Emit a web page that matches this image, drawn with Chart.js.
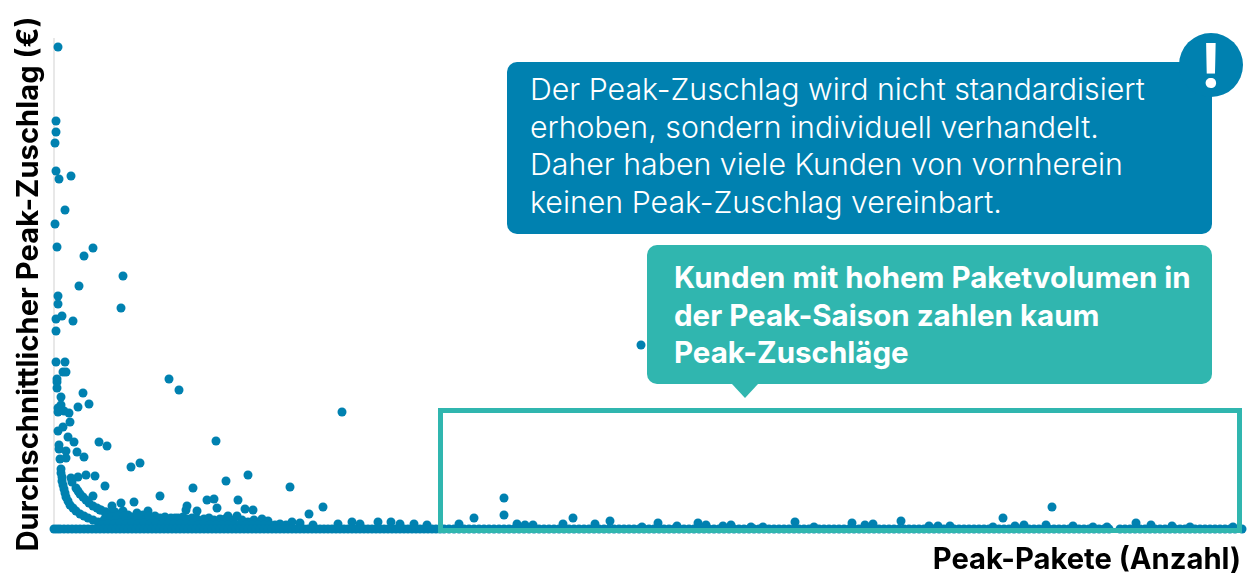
<!DOCTYPE html>
<html lang="de">
<head>
<meta charset="utf-8">
<title>Peak-Zuschlag</title>
<script src="https://cdn.jsdelivr.net/npm/chart.js@4"></script>
<style>
  html, body { margin: 0; background: #fff; }
  #wrap { position: relative; width: 1250px; height: 584px; overflow: hidden; font-family: Inter, sans-serif; }
  #chart { position: absolute; left: 0; top: 0; }
  .box { position: absolute; box-sizing: border-box; color: #fff; line-height: 37.7px; white-space: nowrap; }
  #hinweis { left: 507px; top: 62px; width: 705px; height: 172px; padding: 9px 0 0 23px; background: #0081b0; border-radius: 10px; font-size: 30.3px; font-weight: 300; }
  #icon { position: absolute; left: 1179px; top: 33px; width: 64px; height: 64px; border-radius: 50%; background: #0081b0; color: #fff; font-size: 60px; font-weight: 700; line-height: 64px; text-align: center; }
  #kunden { left: 647px; top: 245px; width: 565px; height: 139px; padding: 14px 0 0 27px; background: #30b6af; border-radius: 10px; font-size: 29.5px; font-weight: 700; }
  #pfeil { position: absolute; left: 732px; top: 384px; width: 0; height: 0; border-left: 13px solid transparent; border-right: 13px solid transparent; border-top: 14px solid #30b6af; }
  #rahmen { position: absolute; box-sizing: border-box; left: 438px; top: 408px; width: 804px; height: 125px; border: 5px solid #30b6af; }
</style>
</head>
<body>
<div id="wrap">
  <canvas id="chart" width="1250" height="584"></canvas>
  <div id="rahmen"></div>
  <div class="box" id="hinweis">Der Peak-Zuschlag wird nicht standardisiert<br>erhoben, sondern individuell verhandelt.<br>Daher haben viele Kunden von vornherein<br>keinen Peak-Zuschlag vereinbart.</div>
  <div id="icon">!</div>
  <div class="box" id="kunden">Kunden mit hohem Paketvolumen in<br>der Peak-Saison zahlen kaum<br>Peak-Zuschläge</div>
  <div id="pfeil"></div>
</div>
<script>
// ─── Data ─────────────────────────────────────────────
// [Peak-Pakete, Peak-Zuschlag], Achsen ohne Skala
const einzelKunden = [
  [4,482],[2,408],[2,397],[1,386],[2,358],[5,350],[17,353],[11,319],[1,305],[3,282],
  [39,281],[30,273],[69,253],[25,243],[4,233],[4,225],[67,221],[8,213],[2,210],[19,208],
  [2,198],[2,167],[11,167],[9,157],[12,157],[3,150],[115,150],[3,147],[3,141],[125,139],
  [7,132],[29,136],[35,125],[24,122],[7,124],[4,121],[4,117],[10,118],[15,116],[16,107],
  [9,102],[4,98],[14,92],[20,87],[45,87],[53,83],[5,84],[5,80],[12,78],[23,77],
  [6,70],[12,71],[30,72],[77,62],[86,66],[162,88],[288,117],[587,184],[24,52],[32,54],
  [41,53],[51,43],[39,33],[17,51],[18,47],[139,41],[172,48],[194,54],[236,42],[106,33],
  [153,29],[160,30],[184,29],[80,27],[67,26],[58,23],[133,23],[132,19],[143,18],[163,21],
  [191,20],[199,19],[269,22],[255,15],[450,31],[450,14],[420,11],[519,11],[556,8],[741,7],
  [847,8],[949,11],[998,22],
];
const kurveA = [
  [7,60],[7,56],[8,52],[8,48],[9,44],[10,40],[11,36],[12,32],[14,28],[16,24],
  [19,21],[22,18],[26,15],[30,13],[34,11],[39,9],[44,7],[50,5],[56,4],
];
const kurveB = [
  [22,41],[24,38],[26,35],[29,32],[32,29],[35,26],[39,23],[43,21],[47,19],[52,17],[58,15],[64,13],
];
const dichteZone = [
  [94,18],[83,16],[69,18],[61,17],[51,17],[46,19],[121,11],[129,12],[138,11],[155,11],
  [101,13],[111,12],[74,14],[89,14],[146,8],[163,7],[174,13],[183,13],[179,9],[188,9],
  [200,9],[208,10],[214,8],[221,4],
  [50,9],[56,10],[62,9],[68,10],[74,9],[80,10],[86,9],[92,10],[98,9],[104,9],
  [110,8],[116,9],[122,8],[128,9],[134,8],[140,7],[152,8],[158,7],[168,8],[174,7],
  [194,7],[206,6],[226,5],[232,4],
  [52,13],[57,12],[63,13],[70,13],[78,12],[84,13],[95,13],[106,11],[117,11],[124,11],
  [133,10],[143,10],[150,10],[160,9],[166,10],[171,10],
  [48,4],[54,5],[60,5],[66,6],[72,5],[78,6],[84,5],[90,6],[96,5],[102,6],
  [108,5],[114,5],[120,5],[126,5],[132,5],[138,5],[144,4],[150,5],[156,4],[162,4],
  [168,4],[174,4],[180,4],[186,5],[192,4],[198,4],[204,4],[210,4],[216,4],
];
const kleineWerte = [
  [238,7],[246,6],[259,4],[284,5],[298,7],[306,5],[324,7],[337,7],[346,5],[360,5],
  [373,4],[405,5],[463,5],[471,4],[479,4],[509,5],[541,5],[588,2],[604,6],[623,3],
  [644,6],[652,4],[669,3],[677,4],[697,2],[709,2],[760,2],[798,6],[811,4],[819,5],
  [875,3],[884,3],[896,3],[939,2],[961,3],[970,4],[992,4],[1019,3],[1039,2],[1053,2],
  [1082,6],[1097,4],[1118,3],[1136,2],[1179,2],
];
// Kunden ohne vereinbarten Peak-Zuschlag
const ohneZuschlagPakete = [
  0,3,6,10,14,18,22,26,30,34,38,42,46,50,54,58,62,66,70,74,78,82,86,90,94,98,102,106,110,114,
  118,122,126,130,134,138,142,146,150,154,158,162,166,170,174,178,182,186,190,194,198,202,206,210,214,218,222,226,230,234,
  238,242,246,250,254,258,262,266,270,274,278,282,286,290,294,298,302,306,310,314,318,322,326,330,334,338,342,346,350,354,
  358,362,366,370,374,378,382,386,390,395,400,405,410,415,420,425,430,435,440,445,450,455,460,465,470,475,480,485,490,495,
  500,505,510,515,520,525,530,535,540,545,550,555,560,565,570,575,580,585,590,595,600,605,610,615,620,625,630,635,640,645,
  650,655,660,665,670,675,680,685,690,695,700,705,710,715,720,725,730,735,740,745,750,755,760,765,770,775,780,785,790,795,
  800,805,810,815,820,825,830,835,840,845,850,855,860,865,870,875,880,885,890,895,900,905,910,915,920,925,930,935,940,945,
  950,955,960,965,970,975,980,985,990,995,1000,1005,1010,1015,1020,1025,1030,1035,1040,1045,1050,1055,1066,1071,1076,1081,1086,1091,1096,1101,
  1106,1111,1116,1121,1126,1131,1136,1141,1146,1151,1156,1161,1166,1171,1176,1181,1188,
];
const achseX = 'Peak-Pakete (Anzahl)';
const achseY = 'Durchschnittlicher Peak-Zuschlag (€)';

// ─── Chart ────────────────────────────────────────────
const punkte = [...einzelKunden, ...kurveA, ...kurveB, ...dichteZone, ...kleineWerte]
  .map(([x, y]) => ({ x, y }))
  .concat(ohneZuschlagPakete.map(x => ({ x, y: 0 })));

const titelFont = { family: 'Inter, sans-serif', size: 29.2, weight: '700' };

new Chart(document.getElementById('chart'), {
  type: 'scatter',
  data: {
    datasets: [{
      data: punkte,
      backgroundColor: '#0081b0',
      borderWidth: 0,
      pointRadius: 4.5,
      clip: false,
    }],
  },
  options: {
    responsive: false,
    animation: false,
    layout: { padding: { top: 39, right: 9 } },
    plugins: { legend: { display: false }, tooltip: { enabled: false } },
    scales: {
      x: {
        min: 0,
        max: 1187,
        grid: { display: false },
        border: { display: false },
        ticks: { display: false },
        title: { display: true, text: achseX, align: 'end', color: '#000', font: titelFont, padding: { top: 0, bottom: 6 } },
        afterFit: s => { s.height = 55; },
      },
      y: {
        min: 0,
        max: 490,
        grid: { display: false },
        border: { display: true, color: '#e8e8e8', width: 2 },
        ticks: { display: false },
        title: { display: true, text: achseY, color: '#000', font: titelFont, padding: { top: 12, bottom: 0 } },
        afterFit: s => { s.width = 54; },
      },
    },
  },
});
</script>
</body>
</html>
